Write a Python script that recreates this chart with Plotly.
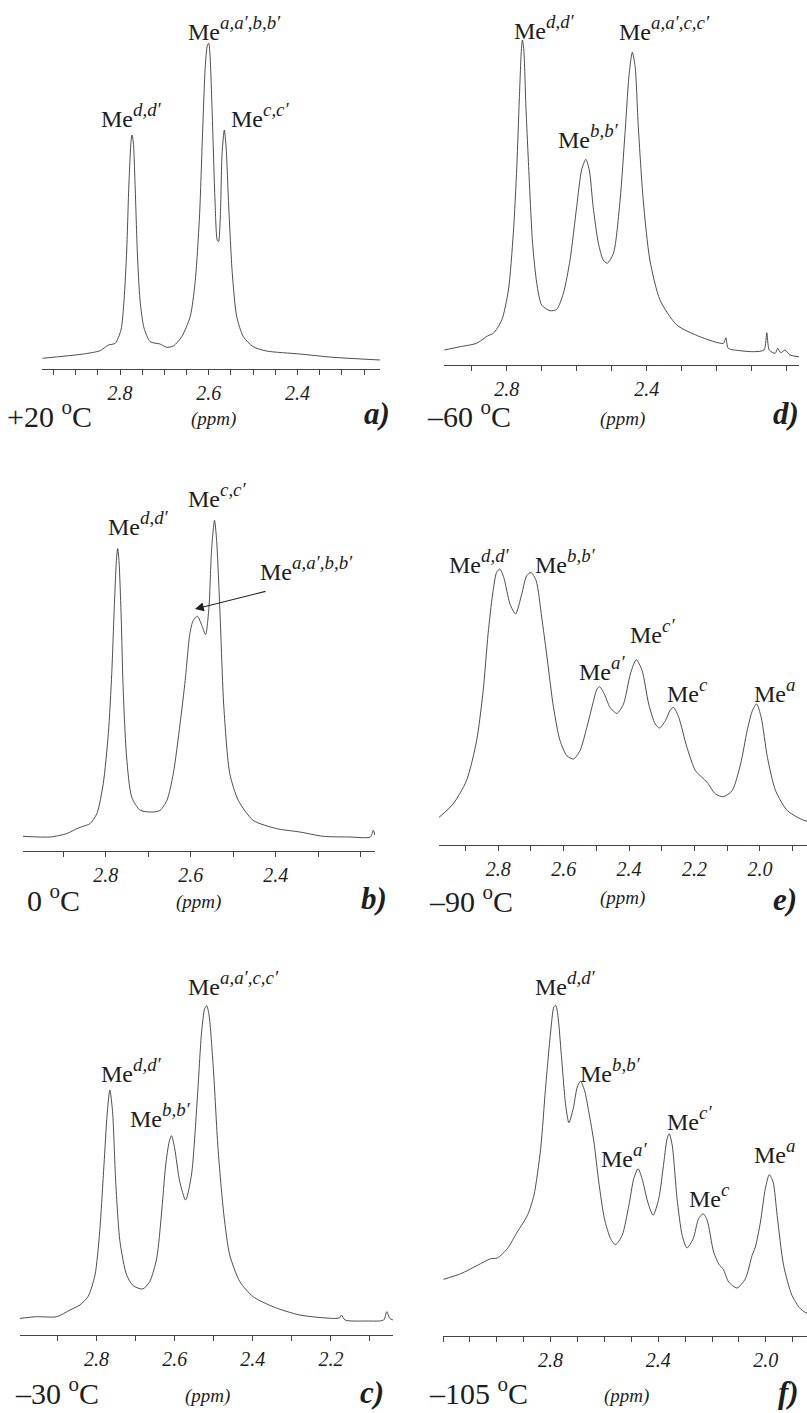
import plotly.graph_objects as go

W, H = 807, 1413
SERIF = "Liberation Serif, Times New Roman, serif"

# ---------------- data (ppm, intensity in arbitrary units) ----------------
a_ppm = [2.975, 2.883, 2.845, 2.826, 2.811, 2.798, 2.791, 2.785, 2.780, 2.775, 2.773, 2.770, 2.766, 2.761,
         2.755, 2.746, 2.732, 2.710, 2.695, 2.680, 2.661, 2.642, 2.631, 2.621, 2.614, 2.608, 2.603, 2.600,
         2.597, 2.592, 2.586, 2.581, 2.578, 2.574, 2.570, 2.565, 2.561, 2.555, 2.547, 2.537, 2.522, 2.500,
         2.470, 2.395, 2.320, 2.214]
a_int = [10.7, 15, 18.3, 24, 25.7, 39, 69, 119, 186, 229, 234, 226, 182, 116,
         69, 41, 27.3, 25, 21.7, 23, 32.3, 52.3, 85.7, 152, 235.7, 302, 324, 325.7,
         312, 252, 169, 129, 127.3, 152, 215.7, 239, 222, 162, 95.7, 52.3, 32.3, 22.3,
         18, 15, 11.7, 9]

b_ppm = [2.995, 2.931, 2.892, 2.868, 2.853, 2.837, 2.821, 2.806, 2.794, 2.786, 2.780, 2.775, 2.772, 2.769,
         2.764, 2.759, 2.751, 2.739, 2.719, 2.688, 2.672, 2.656, 2.641, 2.625, 2.613, 2.602, 2.594, 2.584,
         2.574, 2.565, 2.557, 2.551, 2.544, 2.539, 2.531, 2.522, 2.508, 2.488, 2.453, 2.398, 2.343, 2.288,
         2.225, 2.177, 2.170, 2.166]
b_int = [14.7, 14, 17.4, 22.4, 24.7, 27.4, 37.4, 67.4, 117.4, 177.4, 244, 290.7, 302.4, 290.7,
         237.4, 160.7, 94, 54, 40.7, 39, 40.7, 50.7, 77.4, 127.4, 170.7, 217.4, 230.7, 234.7,
         225.7, 216.4, 244, 300.7, 330.7, 310.7, 237.4, 144, 77.4, 50.7, 30.7, 22.4, 19, 14.7,
         14, 14, 20.7, 15.7]

c_ppm = [2.996, 2.954, 2.902, 2.868, 2.843, 2.822, 2.804, 2.792, 2.781, 2.773, 2.766, 2.759, 2.751, 2.740,
         2.723, 2.706, 2.682, 2.664, 2.646, 2.634, 2.623, 2.614, 2.608, 2.600, 2.587, 2.572, 2.557, 2.542,
         2.531, 2.523, 2.518, 2.512, 2.501, 2.489, 2.474, 2.459, 2.433, 2.399, 2.348, 2.280, 2.194, 2.177,
         2.173, 2.164, 2.108, 2.065, 2.057, 2.049, 2.041]
c_int = [16.6, 18.3, 18.3, 25, 30, 38.3, 60, 103.3, 170, 220, 245, 223.3, 153.3, 93.3,
         60, 49.3, 46, 53.3, 76.7, 120, 170, 193.3, 199.3, 186.6, 153.3, 135, 160, 236.6,
         303.3, 326.6, 329.3, 320, 266.6, 186.6, 120, 80, 53.3, 38.3, 28.3, 20, 16.6, 17.3,
         20, 15, 14, 15, 23.3, 16.6, 15]

d_ppm = [2.978, 2.933, 2.886, 2.855, 2.838, 2.814, 2.795, 2.781, 2.771, 2.764, 2.758, 2.755, 2.751, 2.745,
         2.735, 2.726, 2.714, 2.700, 2.676, 2.657, 2.638, 2.619, 2.600, 2.586, 2.574, 2.564, 2.553, 2.538,
         2.524, 2.513, 2.495, 2.476, 2.462, 2.450, 2.441, 2.433, 2.424, 2.410, 2.391, 2.362, 2.314, 2.248,
         2.181, 2.174, 2.167, 2.133, 2.095, 2.065, 2.057, 2.050, 2.033, 2.026, 2.017, 2.005, 1.991, 1.965]
d_int = [15, 18.3, 21.7, 29, 31.7, 45, 75, 131.7, 198.3, 265, 315, 325, 315, 258.3,
         181.7, 121.7, 81.7, 60, 54.3, 55.7, 71.7, 105, 158.3, 195, 205.7, 195, 158.3, 121.7,
         105, 101.7, 111.7, 165, 231.7, 291.7, 312.7, 298.3, 238.3, 165, 105, 65, 40, 28.3,
         21.7, 27.3, 16.7, 14.3, 13.3, 15, 32.3, 15, 11.7, 16.7, 12.3, 15, 10, 8.3]

e_ppm = [2.981, 2.938, 2.897, 2.866, 2.846, 2.831, 2.817, 2.805, 2.795, 2.783, 2.764, 2.747, 2.728, 2.713,
         2.700, 2.684, 2.667, 2.652, 2.631, 2.611, 2.590, 2.570, 2.550, 2.529, 2.511, 2.498, 2.490, 2.478,
         2.458, 2.437, 2.417, 2.396, 2.378, 2.360, 2.340, 2.320, 2.307, 2.289, 2.274, 2.264, 2.248, 2.223,
         2.197, 2.177, 2.161, 2.136, 2.112, 2.085, 2.059, 2.039, 2.023, 2.010, 1.996, 1.977, 1.952, 1.916,
         1.875, 1.856]
e_int = [27.6, 41, 64.3, 104.3, 154.3, 211, 251, 272.6, 276, 267.6, 241, 231, 251, 269.3,
         272.6, 264.3, 227.6, 191, 137.6, 104.3, 89.3, 86, 94.3, 117.6, 141, 156, 158.3, 152.6,
         137.6, 131.6, 141, 171, 185.3, 174.3, 141, 121, 117, 124.3, 135, 137.6, 127.6, 97.6,
         74.3, 67.6, 62.6, 51, 48.3, 54.3, 81, 114.3, 134.3, 141, 127.6, 87.6, 54.3, 34.3,
         26, 23.6]

f_ppm = [3.198, 3.134, 3.072, 3.023, 2.998, 2.961, 2.924, 2.886, 2.862, 2.837, 2.819, 2.800, 2.788, 2.781,
         2.773, 2.760, 2.744, 2.732, 2.716, 2.701, 2.689, 2.674, 2.658, 2.639, 2.621, 2.600, 2.577, 2.559,
         2.534, 2.509, 2.491, 2.475, 2.460, 2.439, 2.419, 2.398, 2.379, 2.367, 2.359, 2.348, 2.330, 2.311,
         2.293, 2.270, 2.250, 2.233, 2.218, 2.194, 2.172, 2.159, 2.138, 2.107, 2.076, 2.051, 2.039, 2.020,
         2.002, 1.987, 1.973, 1.958, 1.934, 1.903, 1.872, 1.846]
f_int = [56.7, 62.3, 70.7, 77.3, 78, 87.3, 104, 120.7, 140.7, 187.3, 247.3, 304, 329, 330.7,
         320.7, 280.7, 230.7, 213.3, 227.3, 249, 254.7, 245.7, 224, 194, 154, 117.3, 97.3, 91.3,
         100.7, 130.7, 157.3, 167.3, 157.3, 134, 120.7, 137.3, 174, 197.3, 202.3, 190.7, 137.3, 100.7,
         88, 97.3, 117.3, 122.3, 115.7, 84, 70.7, 67.3, 54, 48, 57.3, 80.7, 89, 114,
         147.3, 161.3, 154, 120.7, 70.7, 40.7, 27.3, 22.3]

# tick values and labels ("" = unlabelled tick)
a_ticks = [2.95, 2.9, 2.85, 2.8, 2.75, 2.7, 2.65, 2.6, 2.55, 2.5, 2.45, 2.4, 2.35, 2.3, 2.25]
a_labels = ["", "", "", "2.8", "", "", "", "2.6", "", "", "", "2.4", "", "", ""]
b_ticks = [2.9, 2.8, 2.7, 2.6, 2.5, 2.4, 2.3, 2.2]
b_labels = ["", "2.8", "", "2.6", "", "2.4", "", ""]
c_ticks = [2.9, 2.8, 2.7, 2.6, 2.5, 2.4, 2.3, 2.2, 2.1]
c_labels = ["", "2.8", "", "2.6", "", "2.4", "", "2.2", ""]
d_ticks = [2.9, 2.8, 2.7, 2.6, 2.5, 2.4, 2.3, 2.2, 2.1, 2.0]
d_labels = ["", "2.8", "", "", "", "2.4", "", "", "", ""]
e_ticks = [2.9, 2.8, 2.7, 2.6, 2.5, 2.4, 2.3, 2.2, 2.1, 2.0, 1.9]
e_labels = ["", "2.8", "", "2.6", "", "2.4", "", "2.2", "", "2.0", ""]
f_ticks = [3.2, 3.1, 3.0, 2.9, 2.8, 2.7, 2.6, 2.5, 2.4, 2.3, 2.2, 2.1, 2.0, 1.9]
f_labels = ["", "", "", "", "2.8", "", "", "", "2.4", "", "", "", "2.0", ""]

temperatures = ["+20", "0", "\u201330", "\u201360", "\u201390", "\u2013105"]
letters = ["a)", "b)", "c)", "d)", "e)", "f)"]

# peak labels: superscript text per panel
a_peaks = ["d,d\u2032", "a,a\u2032,b,b\u2032", "c,c\u2032"]
b_peaks = ["d,d\u2032", "c,c\u2032", "a,a\u2032,b,b\u2032"]
c_peaks = ["a,a\u2032,c,c\u2032", "d,d\u2032", "b,b\u2032"]
d_peaks = ["d,d\u2032", "b,b\u2032", "a,a\u2032,c,c\u2032"]
e_peaks = ["d,d\u2032", "b,b\u2032", "a\u2032", "c\u2032", "c", "a"]
f_peaks = ["d,d\u2032", "b,b\u2032", "a\u2032", "c\u2032", "c", "a"]

# ---------------- layout geometry (pixels) ----------------
panels = [
    dict(ppm=a_ppm, inten=a_int, ticks=a_ticks, labels=a_labels, peaks=a_peaks,
         x0=42, x1=380, axis=369, top=0, rng=[2.976, 2.214], temp=temperatures[0], letter=letters[0],
         tpos=(5, 414), ppos=(213, 419), lpos=(392, 414),
         pk=[(99, 127), (186, 40), (229, 127)]),
    dict(ppm=b_ppm, inten=b_int, ticks=b_ticks, labels=b_labels, peaks=b_peaks,
         x0=23, x1=375, axis=851, top=440, rng=[2.995, 2.166], temp=temperatures[1], letter=letters[1],
         tpos=(25, 898), ppos=(198, 902), lpos=(389, 898),
         pk=[(106, 535), (186, 507), (258, 580)]),
    dict(ppm=c_ppm, inten=c_int, ticks=c_ticks, labels=c_labels, peaks=c_peaks,
         x0=20, x1=393, axis=1335, top=880, rng=[2.996, 2.041], temp=temperatures[2], letter=letters[2],
         tpos=(13, 1391), ppos=(207, 1396), lpos=(386, 1392),
         pk=[(186, 995), (99, 1082), (128, 1127)]),
    dict(ppm=d_ppm, inten=d_int, ticks=d_ticks, labels=d_labels, peaks=d_peaks,
         x0=444, x1=799, axis=365, top=0, rng=[2.979, 1.965], temp=temperatures[3], letter=letters[3],
         tpos=(425, 414), ppos=(622, 419), lpos=(801, 414),
         pk=[(512, 39), (556, 148), (617, 40)]),
    dict(ppm=e_ppm, inten=e_int, ticks=e_ticks, labels=e_labels, peaks=e_peaks,
         x0=439, x1=807, axis=845, top=440, rng=[2.981, 1.856], temp=temperatures[4], letter=letters[4],
         tpos=(427, 899), ppos=(622, 898), lpos=(799, 899),
         pk=[(447, 573), (533, 573), (577, 680), (628, 643), (665, 702), (752, 702)]),
    dict(ppm=f_ppm, inten=f_int, ticks=f_ticks, labels=f_labels, peaks=f_peaks,
         x0=443, x1=807, axis=1336, top=880, rng=[3.2, 1.847], temp=temperatures[5], letter=letters[5],
         tpos=(427, 1391), ppos=(626, 1396), lpos=(801, 1392),
         pk=[(533, 995), (578, 1082), (599, 1167), (665, 1130), (687, 1207), (752, 1163)]),
]


def px(x):
    return x / W


def py(y):
    return 1 - y / H


fig = go.Figure()
LINE = "#3a3a3a"
TXT = "#1e1e1e"
AX = "#444"

for i, p in enumerate(panels):
    n = i + 1
    xa = "x" if n == 1 else f"x{n}"
    ya = "y" if n == 1 else f"y{n}"
    fig.add_trace(go.Scatter(
        x=p["ppm"], y=p["inten"], mode="lines",
        line=dict(color=LINE, width=0.9, shape="spline", smoothing=0.7),
        xaxis=xa, yaxis=ya, showlegend=False, hoverinfo="skip"))
    major_v = [v for v, l in zip(p["ticks"], p["labels"]) if l]
    major_t = [l for l in p["labels"] if l]
    xkey = "xaxis" if n == 1 else f"xaxis{n}"
    ykey = "yaxis" if n == 1 else f"yaxis{n}"
    fig.update_layout(**{
        xkey: dict(domain=[px(p["x0"]), px(p["x1"])], range=p["rng"], anchor=ya,
                   showline=True, linecolor=AX, linewidth=1, ticks="outside", ticklen=5,
                   tickwidth=1, tickcolor=AX, tickmode="array", tickvals=major_v, ticktext=major_t,
                   minor=dict(tickmode="array", tickvals=p["ticks"], ticks="outside", ticklen=5,
                              tickwidth=1, tickcolor=AX, showgrid=False),
                   tickfont=dict(family=SERIF, size=20, color=TXT, style="italic"),
                   ticklabelstandoff=1, showgrid=False, zeroline=False, fixedrange=True),
        ykey: dict(domain=[py(p["axis"]), py(p["top"])], range=[0, p["axis"] - p["top"]],
                   anchor=xa, visible=False, showticklabels=False, ticks="", tickmode="array",
                   tickvals=[], showgrid=False, zeroline=False, showline=False, fixedrange=True),
    })
    # temperature
    fig.add_annotation(text=f"{p['temp']} <sup>o</sup>C", x=px(p["tpos"][0]), y=py(p["tpos"][1]),
                       xref="paper", yref="paper", showarrow=False, xanchor="left", yanchor="middle",
                       font=dict(family=SERIF, size=30, color=TXT))
    # (ppm)
    fig.add_annotation(text="(ppm)", x=px(p["ppos"][0]), y=py(p["ppos"][1]),
                       xref="paper", yref="paper", showarrow=False, xanchor="center", yanchor="middle",
                       font=dict(family=SERIF, size=19, color=TXT, style="italic"))
    # panel letter
    fig.add_annotation(text=p["letter"], x=px(p["lpos"][0]), y=py(p["lpos"][1]),
                       xref="paper", yref="paper", showarrow=False, xanchor="right", yanchor="middle",
                       font=dict(family=SERIF, size=31, color=TXT, style="italic", weight="bold"))
    # peak labels
    for sup, (lx, ly) in zip(p["peaks"], p["pk"]):
        fig.add_annotation(text=f"<span style='font-size:24px'>Me</span><sup><i>{sup}</i></sup>",
                           x=px(lx), y=py(ly + 7),
                           xref="paper", yref="paper", showarrow=False, xanchor="left",
                           yanchor="bottom", font=dict(family=SERIF, size=27, color=TXT))

# arrow in panel b
fig.add_annotation(text="", x=px(195), y=py(609), ax=72, ay=-18, xref="paper", yref="paper",
                   showarrow=True, arrowhead=2, arrowsize=1.6, arrowwidth=1.1, arrowcolor="#222")

fig.update_layout(width=W, height=H, margin=dict(l=0, r=0, t=0, b=0),
                  paper_bgcolor="white", plot_bgcolor="white", showlegend=False)

fig.write_html("out.html", config={"displayModeBar": False, "staticPlot": True},
               post_script="document.body.style.margin='0';document.body.style.overflow='hidden';")
